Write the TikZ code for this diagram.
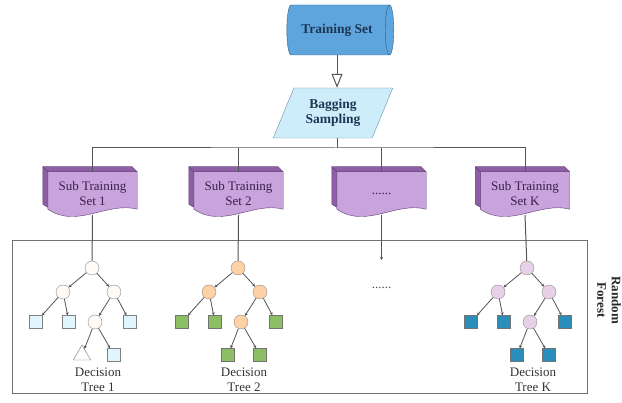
\documentclass[tikz,border=0pt]{standalone}
\usepackage{fontspec}
\setmainfont{Liberation Serif}
\usepackage{tikz}
\usetikzlibrary{arrows.meta,positioning,shapes.geometric,calc,backgrounds}

\definecolor{setblue}{HTML}{5DA5DC}
\definecolor{setline}{HTML}{2E5F86}
\definecolor{bagblue}{HTML}{CDEDFA}
\definecolor{navytext}{HTML}{1E3553}
\definecolor{docfront}{HTML}{C9A3DC}
\definecolor{docback}{HTML}{8F5FA6}
\definecolor{docline}{HTML}{5E3C70}
\definecolor{doctext}{HTML}{3A1F50}
\definecolor{wire}{HTML}{555555}
\definecolor{tealleaf}{HTML}{2A8DBA}
\definecolor{greenleaf}{HTML}{8CBF63}

% document symbol with a shaded back face, drawn round a named node
\newcommand{\docshape}[1]{%
    \filldraw[fill=docback, draw=docline]
        ($(#1.north west)+(-5,-5)$) -- ($(#1.north east)+(-5,-5)$)
        -- ($(#1.south east)+(-5,-11)$)
        .. controls ($(#1.south east)+(-35,-19)$) and ($(#1.south west)+(24,9)$) ..
        ($(#1.south west)+(-5,-11)$) -- cycle;
    \filldraw[fill=docback, draw=docline]
        ($(#1.north west)+(-5,-5)$) -- ($(#1.north east)+(-5,-5)$)
        -- (#1.north east) -- (#1.north west) -- cycle;
    \filldraw[fill=docfront, draw=docline]
        (#1.north west) -- (#1.north east) -- ($(#1.south east)+(0,-6)$)
        .. controls ($(#1.south east)+(-30,-14)$) and ($(#1.south west)+(29,14)$) ..
        ($(#1.south west)+(0,-6)$) -- cycle;
}

\begin{document}
\begin{tikzpicture}[x=1pt, y=-1pt, every node/.style={font=\fontsize{13}{14.5}\selectfont},
    wire/.style={draw=wire, line width=1pt},
    branch/.style={draw=wire, line width=0.8pt, -{Stealth[length=3pt,width=3pt]}},
    docnode/.style={minimum width=89pt, minimum height=43pt, inner sep=0pt, align=center, text=doctext},
    knotA/.style={circle, draw=black!45, fill=orange!4, minimum size=14pt, inner sep=0pt},
    knotB/.style={circle, draw=black!45, fill=orange!35, minimum size=14pt, inner sep=0pt},
    knotC/.style={circle, draw=black!45, fill=violet!18, minimum size=14pt, inner sep=0pt},
    leafA/.style={rectangle, draw=black!50, fill=cyan!12, minimum size=13pt, inner sep=0pt},
    leafB/.style={rectangle, draw=black!55, fill=greenleaf, minimum size=13pt, inner sep=0pt},
    leafC/.style={rectangle, draw=black!55, fill=tealleaf, minimum size=13pt, inner sep=0pt},
    triA/.style={regular polygon, regular polygon sides=3, draw=black!55, fill=white, minimum size=20pt, inner sep=0pt},
    treelabel/.style={align=center, text=black!80}]
    \useasboundingbox (0,0) rectangle (622,403);

    % Training set (cylinder)
    \node[cylinder, draw=setline, fill=setblue, minimum height=107pt, minimum width=50pt,
        shape aspect=0.45, text=navytext, font=\fontsize{13.5}{15}\selectfont\bfseries]
        (train) at (337,30) {Training Set};

    % Bagging sampling (parallelogram)
    \node[trapezium, trapezium left angle=63, trapezium right angle=117, trapezium stretches=true,
        draw=setline!70, fill=bagblue, minimum width=120pt, minimum height=50pt, inner sep=1pt,
        align=center, text=navytext, font=\fontsize{13.5}{15}\selectfont\bfseries]
        (bag) at (333,113) {Bagging\\Sampling};

    % Sub training sets
    \node[docnode] (doc1) at (92.5,193.5) {Sub Training\\Set 1};
    \node[docnode] (doc2) at (238.5,193.5) {Sub Training\\Set 2};
    \node[docnode] (doc3) at (381.5,193.5) {......};
    \node[docnode] (docK) at (525,193.5) {Sub Training\\Set K};
    \begin{scope}[on background layer]
        \docshape{doc1}
        \docshape{doc2}
        \docshape{doc3}
        \docshape{docK}
    \end{scope}

    % Forest frame
    \node[draw=black!55, line width=0.8pt, minimum width=575pt, minimum height=153pt]
        (forest) at (299.5,316.5) {};
    \node[rotate=-90, align=center, text=black!85, font=\fontsize{13}{14.5}\selectfont\bfseries]
        (rf) at (609,300) {Random\\Forest};

    % Arrows
    \coordinate (bus) at (337,148);
    \draw[wire, -{Triangle[open, length=14pt, width=11pt]}] (train.south) -- (train.south |- bag.north);
    \draw[wire] (bag.south -| bus) -- (bus);
    \draw[wire] (doc1.north) |- (bus) -| (docK.north);
    \draw[wire] (doc2.north) -- (doc2.north |- bus);
    \draw[wire] (doc3.north) -- (doc3.north |- bus);

    % Decision trees
    \foreach \t/\x/\cs/\ls/\ts in {1/92/knotA/leafA/triA, 2/238/knotB/leafB/leafB, K/527/knotC/leafC/leafC}{
        \node[\cs] (r\t) at (\x,268) {};
        \node[\cs] (a\t) at (\x-29,292) {};
        \node[\cs] (b\t) at (\x+22,292) {};
        \node[\ls] (la\t) at (\x-56,322) {};
        \node[\ls] (lb\t) at (\x-23,322) {};
        \node[\cs] (c\t) at (\x+3,322) {};
        \node[\ls] (lc\t) at (\x+38,322) {};
        \node[\ts] (ld\t) at (\x-10,355) {};
        \node[\ls] (le\t) at (\x+22,355) {};
        \node[treelabel] (tl\t) at (\x+6,380) {Decision\\Tree \t};
        \draw[branch] (r\t) -- (a\t);
        \draw[branch] (r\t) -- (b\t);
        \draw[branch] (a\t) -- (la\t);
        \draw[branch] (a\t) -- (lb\t);
        \draw[branch] (b\t) -- (c\t);
        \draw[branch] (b\t) -- (lc\t);
        \draw[branch] (c\t) -- (ld\t);
        \draw[branch] (c\t) -- (le\t);
    }
    \draw[wire] (doc1.south) -- (r1);
    \draw[wire] (doc2.south) -- (r2);
    \draw[wire] (docK.south) -- (rK);

    % Elided trees
    \coordinate (gap) at (381.5,260);
    \node[text=black!70] (more) at (381.5,288) {......};
    \draw[wire, -{Stealth[length=3pt,width=3pt]}] (doc3.south) -- (gap);
\end{tikzpicture}
\end{document}
